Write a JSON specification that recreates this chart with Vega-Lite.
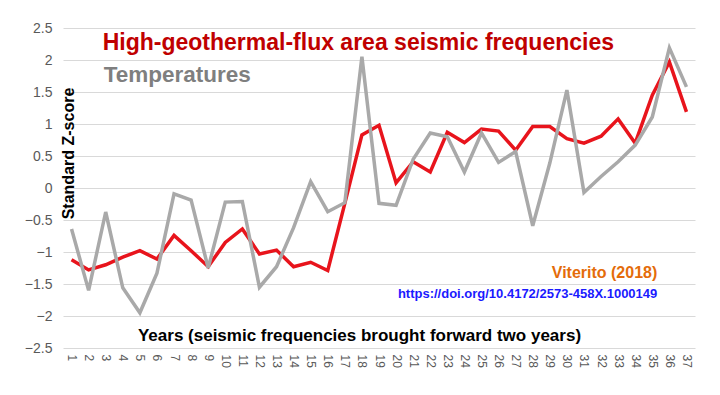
{
  "$schema": "https://vega.github.io/schema/vega-lite/v6.json",
  "autosize": {"type": "none"},
  "padding": {"left": 63, "top": 28, "right": 25, "bottom": 47},
  "width": 632,
  "height": 320,
  "background": "white",
  "config": {
    "font": "Liberation Sans",
    "view": {"stroke": null},
    "axisY": {
      "values": [-2.5, -2, -1.5, -1, -0.5, 0, 0.5, 1, 1.5, 2, 2.5],
      "tickCount": 11,
      "format": "~g",
      "labelOverlap": false,
      "labelFlush": false
    }
  },
  "data": {
    "values": [
      {"year": 1, "seismic": -1.12, "temp": -0.64},
      {"year": 2, "seismic": -1.28, "temp": -1.6},
      {"year": 3, "seismic": -1.2, "temp": -0.375},
      {"year": 4, "seismic": -1.08, "temp": -1.56},
      {"year": 5, "seismic": -0.98, "temp": -1.95},
      {"year": 6, "seismic": -1.11, "temp": -1.33},
      {"year": 7, "seismic": -0.74, "temp": -0.09},
      {"year": 8, "seismic": -0.98, "temp": -0.19},
      {"year": 9, "seismic": -1.23, "temp": -1.25},
      {"year": 10, "seismic": -0.85, "temp": -0.22},
      {"year": 11, "seismic": -0.64, "temp": -0.21},
      {"year": 12, "seismic": -1.03, "temp": -1.55},
      {"year": 13, "seismic": -0.97, "temp": -1.23},
      {"year": 14, "seismic": -1.23, "temp": -0.62},
      {"year": 15, "seismic": -1.16, "temp": 0.1},
      {"year": 16, "seismic": -1.29, "temp": -0.37},
      {"year": 17, "seismic": -0.24, "temp": -0.23},
      {"year": 18, "seismic": 0.83, "temp": 2.05},
      {"year": 19, "seismic": 0.98, "temp": -0.24},
      {"year": 20, "seismic": 0.08, "temp": -0.27},
      {"year": 21, "seismic": 0.41, "temp": 0.45},
      {"year": 22, "seismic": 0.25, "temp": 0.86},
      {"year": 23, "seismic": 0.87, "temp": 0.8},
      {"year": 24, "seismic": 0.71, "temp": 0.25},
      {"year": 25, "seismic": 0.92, "temp": 0.86},
      {"year": 26, "seismic": 0.89, "temp": 0.4},
      {"year": 27, "seismic": 0.59, "temp": 0.57},
      {"year": 28, "seismic": 0.96, "temp": -0.59},
      {"year": 29, "seismic": 0.96, "temp": 0.39},
      {"year": 30, "seismic": 0.77, "temp": 1.53},
      {"year": 31, "seismic": 0.7, "temp": -0.07},
      {"year": 32, "seismic": 0.81, "temp": 0.18},
      {"year": 33, "seismic": 1.08, "temp": 0.41},
      {"year": 34, "seismic": 0.7, "temp": 0.67},
      {"year": 35, "seismic": 1.45, "temp": 1.11},
      {"year": 36, "seismic": 1.97, "temp": 2.19},
      {"year": 37, "seismic": 1.19, "temp": 1.58}
    ]
  },
  "encoding": {
    "x": {
      "field": "year",
      "type": "ordinal",
      "sort": "ascending",
      "scale": {"type": "point", "padding": 0.5},
      "axis": {
        "title": "Years (seismic frequencies brought forward two years)",
        "titleFontSize": 17,
        "titleFontWeight": "bold",
        "titleColor": "#000000",
        "titleX": 296,
        "titleY": -13,
        "titleBaseline": "middle",
        "titleAlign": "center",
        "labelAngle": 90,
        "labelFontSize": 12,
        "labelColor": "#595959",
        "labelPadding": 6,
        "labelOverlap": false,
        "ticks": false,
        "domain": false,
        "grid": false
      }
    }
  },
  "layer": [
    {
      "mark": {"type": "line", "color": "#e8141c", "strokeWidth": 3.5, "strokeJoin": "miter", "clip": false},
      "encoding": {
        "y": {
          "field": "seismic",
          "type": "quantitative",
          "scale": {"domain": [-2.5, 2.5], "nice": false, "zero": false},
          "axis": {
            "values": [-2.5, -2, -1.5, -1, -0.5, 0, 0.5, 1, 1.5, 2, 2.5],
            "tickCount": 11,
            "format": "~g",
            "title": "Standard Z-score",
            "titleFontSize": 16,
            "titleFontWeight": "bold",
            "titleColor": "#000000",
            "titleAngle": -90,
            "titleX": 5,
            "titleY": 125,
            "titleBaseline": "middle",
            "titleAlign": "center",
            "labelFontSize": 14,
            "labelColor": "#595959",
            "labelPadding": 11,
            "labelOverlap": false,
            "labelFlush": false,
            "ticks": false,
            "domain": false,
            "grid": true,
            "gridColor": "#d9d9d9",
            "gridWidth": 1
          }
        }
      }
    },
    {
      "mark": {"type": "line", "color": "#a9a9a9", "strokeWidth": 3.5, "strokeJoin": "miter", "clip": false},
      "encoding": {
        "y": {"field": "temp", "type": "quantitative"}
      }
    },
    {
      "data": {"values": [{"label": "High-geothermal-flux area seismic frequencies"}]},
      "mark": {"type": "text", "align": "left", "baseline": "alphabetic", "fontSize": 23, "fontWeight": "bold", "color": "#c00000", "dx": -3},
      "encoding": {
        "x": {"datum": 3, "type": "ordinal"},
        "y": {"datum": 2.156, "type": "quantitative"},
        "text": {"field": "label"}
      }
    },
    {
      "data": {"values": [{"label": "Temperatures"}]},
      "mark": {"type": "text", "align": "left", "baseline": "alphabetic", "fontSize": 22.5, "fontWeight": "bold", "color": "#7f7f7f", "dx": -2},
      "encoding": {
        "x": {"datum": 3, "type": "ordinal"},
        "y": {"datum": 1.66, "type": "quantitative"},
        "text": {"field": "label"}
      }
    },
    {
      "data": {"values": [{"label": "Viterito (2018)"}]},
      "mark": {"type": "text", "align": "right", "baseline": "middle", "fontSize": 16, "fontWeight": "bold", "color": "#e46c0a", "dx": 5},
      "encoding": {
        "x": {"datum": 35, "type": "ordinal"},
        "y": {"datum": -1.33, "type": "quantitative"},
        "text": {"field": "label"}
      }
    },
    {
      "data": {"values": [{"label": "https://doi.org/10.4172/2573-458X.1000149"}]},
      "mark": {"type": "text", "align": "right", "baseline": "middle", "fontSize": 13, "fontWeight": "bold", "color": "#1a1aff", "dx": 5},
      "encoding": {
        "x": {"datum": 35, "type": "ordinal"},
        "y": {"datum": -1.66, "type": "quantitative"},
        "text": {"field": "label"}
      }
    }
  ]
}
